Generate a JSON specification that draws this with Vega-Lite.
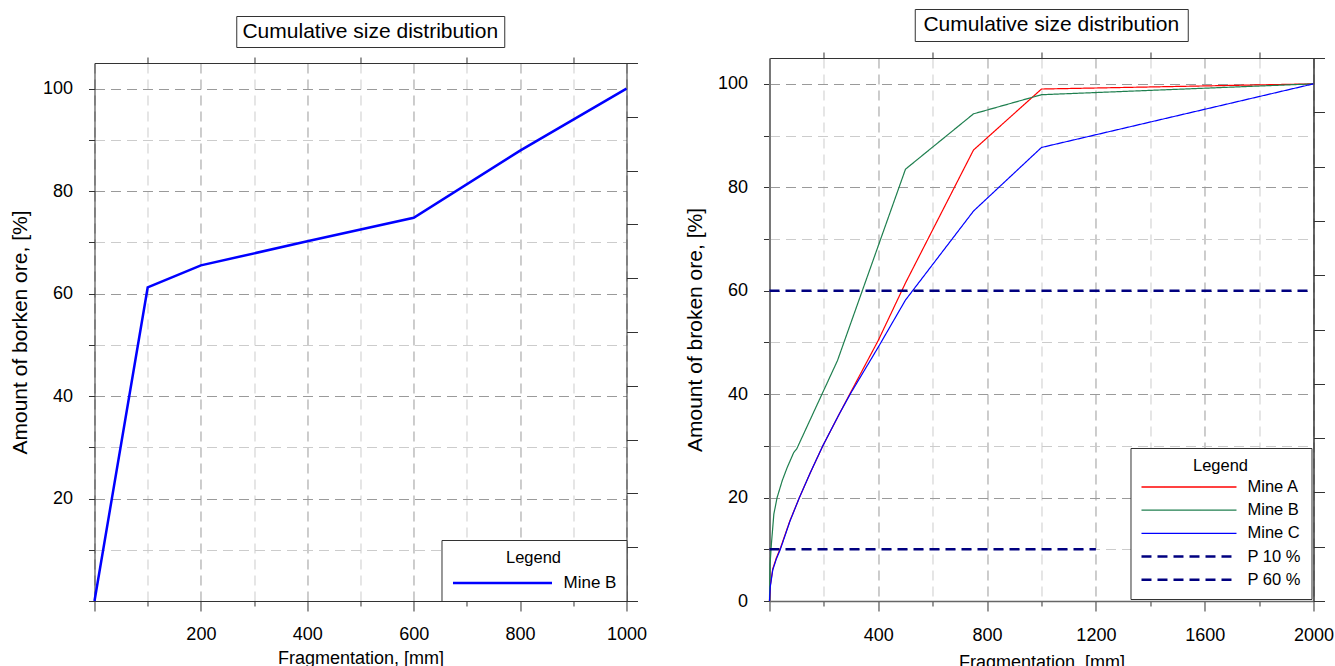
{
  "$schema": "https://vega.github.io/schema/vega-lite/v6.json",
  "padding": {"left": 9, "top": 8, "right": 0, "bottom": 0},
  "config": {
    "font": "Liberation Sans",
    "view": {"stroke": null},
    "axis": {"labelFontSize": 18, "labelColor": "#000", "titleFontSize": 18, "titleFontWeight": "normal", "titleColor": "#000", "tickColor": "#333", "domainColor": "#333", "gridDash": [10, 6], "gridWidth": 1, "labelFlush": false, "labelOverlap": false},
    "axisY": {"titleFontSize": 21},
    "legend": {"titleFontWeight": "normal", "titleColor": "#000", "labelColor": "#000", "strokeColor": "#333", "fillColor": "#ffffff", "titleAnchor": "middle", "symbolType": "stroke", "clipHeight": 16, "padding": 10, "labelOffset": 10}
  },
  "resolve": {"scale": {"color": "independent", "strokeDash": "independent"}, "legend": {"color": "independent", "strokeDash": "independent"}},
  "hconcat": [
    {
      "spacing": 5,
      "resolve": {"scale": {"color": "independent"}, "legend": {"color": "independent"}},
      "vconcat": [
        {
          "width": 1, "height": 1,
          "data": {"values": []},
          "mark": {"type": "point", "opacity": 0, "size": 0}
        },
        {
          "center": true,
          "spacing": 8,
          "resolve": {"scale": {"color": "independent"}, "legend": {"color": "independent"}},
          "vconcat": [
            {
              "width": 268, "height": 31,
              "view": {"stroke": "#333", "strokeWidth": 1},
              "data": {"values": [{"t": "Cumulative size distribution"}]},
              "mark": {"type": "text", "fontSize": 21, "color": "#000", "align": "center", "baseline": "middle"},
              "encoding": {"text": {"field": "t"}}
            },
            {
              "width": 532, "height": 538,
              "layer": [
                {
                  "data": {"values": [
                    {"series": "Mine B", "size": 0, "pct": 0},
                    {"series": "Mine B", "size": 100, "pct": 61.2},
                    {"series": "Mine B", "size": 200, "pct": 65.5},
                    {"series": "Mine B", "size": 400, "pct": 70.2},
                    {"series": "Mine B", "size": 600, "pct": 74.8},
                    {"series": "Mine B", "size": 800, "pct": 87.9},
                    {"series": "Mine B", "size": 1000, "pct": 100}
                  ]},
                  "mark": {"type": "line", "strokeWidth": 2.5},
                  "encoding": {
                    "x": {"field": "size", "type": "quantitative", "scale": {"domain": [0, 1000], "nice": false, "zero": false},
                      "axis": {"orient": "bottom", "title": "Fragmentation, [mm]", "values": [0, 100, 200, 300, 400, 500, 600, 700, 800, 900, 1000], "format": "d",
                        "labelExpr": "datum.value % 200 === 0 && datum.value > 0 ? datum.label : ''",
                        "grid": true,
                        "gridColor": {"condition": {"test": "datum.value % 200 === 0", "value": "#9a9a9a"}, "value": "#cccccc"},
                        "tickSize": {"condition": {"test": "datum.value % 200 === 0", "value": 10}, "value": 5},
                        "labelPadding": 14, "titlePadding": 6}},
                    "y": {"field": "pct", "type": "quantitative", "scale": {"domain": [0, 105], "nice": false, "zero": false},
                      "axis": {"orient": "left", "title": "Amount of borken ore, [%]", "values": [0, 10, 20, 30, 40, 50, 60, 70, 80, 90, 100],
                        "labelExpr": "datum.value % 20 === 0 && datum.value > 0 ? datum.label : ''",
                        "grid": true,
                        "gridColor": {"condition": {"test": "datum.value % 20 === 0", "value": "#9a9a9a"}, "value": "#cccccc"},
                        "tickSize": 6, "labelPadding": 16, "titlePadding": 12}},
                    "color": {"field": "series", "type": "nominal", "scale": {"domain": ["Mine B"], "range": ["#0000ff"]},
                      "legend": {"title": "Legend", "orient": "bottom-right", "offset": 0, "symbolSize": 9801, "symbolStrokeWidth": 2.5, "titleFontSize": 16.5, "labelFontSize": 17, "titlePadding": 8.5}}
                  }
                },
                {
                  "data": {"values": [
                    {"size": 0, "pct": 0},
                    {"size": 1000, "pct": 100}
                  ]},
                  "mark": {"type": "point", "opacity": 0},
                  "encoding": {
                    "x": {"field": "size", "type": "quantitative", "axis": {"orient": "top", "values": [100, 300, 500, 700, 900], "labels": false, "grid": false, "tickSize": 6, "title": null}},
                    "y": {"field": "pct", "type": "quantitative", "axis": {"orient": "right", "values": [0, 10.5, 21, 31.5, 42, 52.5, 63, 73.5, 84, 94.5, 105], "labels": false, "grid": false, "tickSize": 11, "title": null}}
                  }
                }
              ],
              "resolve": {"axis": {"x": "independent", "y": "independent"}}
            }
          ]
        }
      ]
    },
    {
      "center": true,
      "spacing": 9,
      "resolve": {"scale": {"color": "independent", "strokeDash": "independent"}, "legend": {"color": "independent", "strokeDash": "independent"}},
      "vconcat": [
        {
          "width": 273, "height": 32,
          "view": {"stroke": "#333", "strokeWidth": 1},
          "data": {"values": [{"t": "Cumulative size distribution"}]},
          "mark": {"type": "text", "fontSize": 21, "color": "#000", "align": "center", "baseline": "middle"},
          "encoding": {"text": {"field": "t"}}
        },
        {
          "width": 544, "height": 543,
          "layer": [
            {
              "data": {"values": [
                {"series": "Mine A", "size": 0, "pct": 0},
                {"series": "Mine A", "size": 3, "pct": 3},
                {"series": "Mine A", "size": 12, "pct": 6.2},
                {"series": "Mine A", "size": 25, "pct": 8.3},
                {"series": "Mine A", "size": 40, "pct": 10.2},
                {"series": "Mine A", "size": 75, "pct": 15.5},
                {"series": "Mine A", "size": 110, "pct": 20},
                {"series": "Mine A", "size": 150, "pct": 24.8},
                {"series": "Mine A", "size": 196, "pct": 30},
                {"series": "Mine A", "size": 257, "pct": 36.2},
                {"series": "Mine A", "size": 300, "pct": 40.5},
                {"series": "Mine A", "size": 400, "pct": 50.4},
                {"series": "Mine A", "size": 500, "pct": 61.5},
                {"series": "Mine A", "size": 750, "pct": 87.2},
                {"series": "Mine A", "size": 1000, "pct": 99},
                {"series": "Mine A", "size": 2000, "pct": 100},
                {"series": "Mine B", "size": 0, "pct": 0},
                {"series": "Mine B", "size": 2, "pct": 7},
                {"series": "Mine B", "size": 7, "pct": 11},
                {"series": "Mine B", "size": 16, "pct": 16.8},
                {"series": "Mine B", "size": 28, "pct": 20},
                {"series": "Mine B", "size": 47, "pct": 23.3},
                {"series": "Mine B", "size": 65, "pct": 25.8},
                {"series": "Mine B", "size": 89, "pct": 28.7},
                {"series": "Mine B", "size": 100, "pct": 29.4},
                {"series": "Mine B", "size": 250, "pct": 46.5},
                {"series": "Mine B", "size": 500, "pct": 83.5},
                {"series": "Mine B", "size": 750, "pct": 94.2},
                {"series": "Mine B", "size": 1000, "pct": 97.9},
                {"series": "Mine B", "size": 2000, "pct": 100},
                {"series": "Mine C", "size": 0, "pct": 0},
                {"series": "Mine C", "size": 3, "pct": 2.8},
                {"series": "Mine C", "size": 12, "pct": 6},
                {"series": "Mine C", "size": 25, "pct": 8.1},
                {"series": "Mine C", "size": 40, "pct": 10},
                {"series": "Mine C", "size": 75, "pct": 15.4},
                {"series": "Mine C", "size": 110, "pct": 20},
                {"series": "Mine C", "size": 150, "pct": 24.8},
                {"series": "Mine C", "size": 196, "pct": 30},
                {"series": "Mine C", "size": 257, "pct": 36.2},
                {"series": "Mine C", "size": 300, "pct": 40.3},
                {"series": "Mine C", "size": 400, "pct": 49.1},
                {"series": "Mine C", "size": 500, "pct": 58.2},
                {"series": "Mine C", "size": 750, "pct": 75.4},
                {"series": "Mine C", "size": 1000, "pct": 87.7},
                {"series": "Mine C", "size": 2000, "pct": 100}
              ]},
              "mark": {"type": "line", "strokeWidth": 1.2},
              "encoding": {
                "x": {"field": "size", "type": "quantitative", "scale": {"domain": [0, 2000], "nice": false, "zero": false},
                  "axis": {"orient": "bottom", "title": "Fragmentation, [mm]", "values": [0, 200, 400, 600, 800, 1000, 1200, 1400, 1600, 1800, 2000], "format": "d",
                    "labelExpr": "datum.value % 400 === 0 && datum.value > 0 ? datum.label : ''",
                    "grid": true,
                    "gridColor": {"condition": {"test": "datum.value % 400 === 0", "value": "#9a9a9a"}, "value": "#cccccc"},
                    "tickSize": {"condition": {"test": "datum.value % 400 === 0", "value": 10}, "value": 5},
                    "domainColor": "#666", "domainWidth": 1.5,
                    "labelPadding": 15, "titlePadding": 9}},
                "y": {"field": "pct", "type": "quantitative", "scale": {"domain": [0, 105], "nice": false, "zero": false},
                  "axis": {"orient": "left", "title": "Amount of broken ore, [%]", "values": [0, 10, 20, 30, 40, 50, 60, 70, 80, 90, 100],
                    "labelExpr": "datum.value % 20 === 0 ? datum.label : ''",
                    "grid": true,
                    "gridColor": {"condition": {"test": "datum.value % 20 === 0", "value": "#9a9a9a"}, "value": "#cccccc"},
                    "domainColor": "#777", "domainWidth": 2,
                    "tickSize": 6, "labelPadding": 16, "titlePadding": 12}},
                "color": {"field": "series", "type": "nominal",
                  "scale": {"domain": ["Mine A", "Mine B", "Mine C", "P 10 %", "P 60 %"], "range": ["#ff0000", "#1f7f4f", "#0000ff", "#000080", "#000080"]},
                  "legend": {"title": "Legend", "orient": "bottom-right", "offset": 2, "symbolSize": 9025, "symbolStrokeWidth": 1.3, "titleFontSize": 16.5, "labelFontSize": 16.5, "titlePadding": 4.5, "rowPadding": 6.2,
                    "encode": {"symbols": {"update": {"strokeWidth": {"signal": "(datum.value === 'P 10 %' || datum.value === 'P 60 %' ? 2.5 : 1.3)"}}}}}},
                "strokeDash": {"field": "series", "type": "nominal",
                  "scale": {"domain": ["Mine A", "Mine B", "Mine C", "P 10 %", "P 60 %"], "range": [[1, 0], [1, 0], [1, 0], [10, 6], [10, 6]]},
                  "legend": {"title": "Legend", "orient": "bottom-right", "offset": 2, "symbolSize": 9025, "symbolStrokeWidth": 1.3, "titleFontSize": 16.5, "labelFontSize": 16.5, "titlePadding": 4.5, "rowPadding": 6.2}}
              }
            },
            {
              "data": {"values": [
                {"series": "P 10 %", "size": 0, "pct": 10},
                {"series": "P 10 %", "size": 1200, "pct": 10},
                {"series": "P 60 %", "size": 0, "pct": 60},
                {"series": "P 60 %", "size": 2000, "pct": 60}
              ]},
              "mark": {"type": "line", "strokeWidth": 2.5},
              "encoding": {
                "x": {"field": "size", "type": "quantitative", "axis": {"orient": "top", "values": [200, 600, 1000, 1400, 1800], "labels": false, "grid": false, "tickSize": 6, "title": null}},
                "y": {"field": "pct", "type": "quantitative", "axis": {"orient": "right", "values": [0, 10.5, 21, 31.5, 42, 52.5, 63, 73.5, 84, 94.5, 105], "labels": false, "grid": false, "tickSize": 11, "title": null, "domainWidth": 1.5}},
                "color": {"field": "series", "type": "nominal"},
                "strokeDash": {"field": "series", "type": "nominal"}
              }
            }
          ],
          "resolve": {"axis": {"x": "independent", "y": "independent"}}
        }
      ]
    }
  ],
  "spacing": 37
}
